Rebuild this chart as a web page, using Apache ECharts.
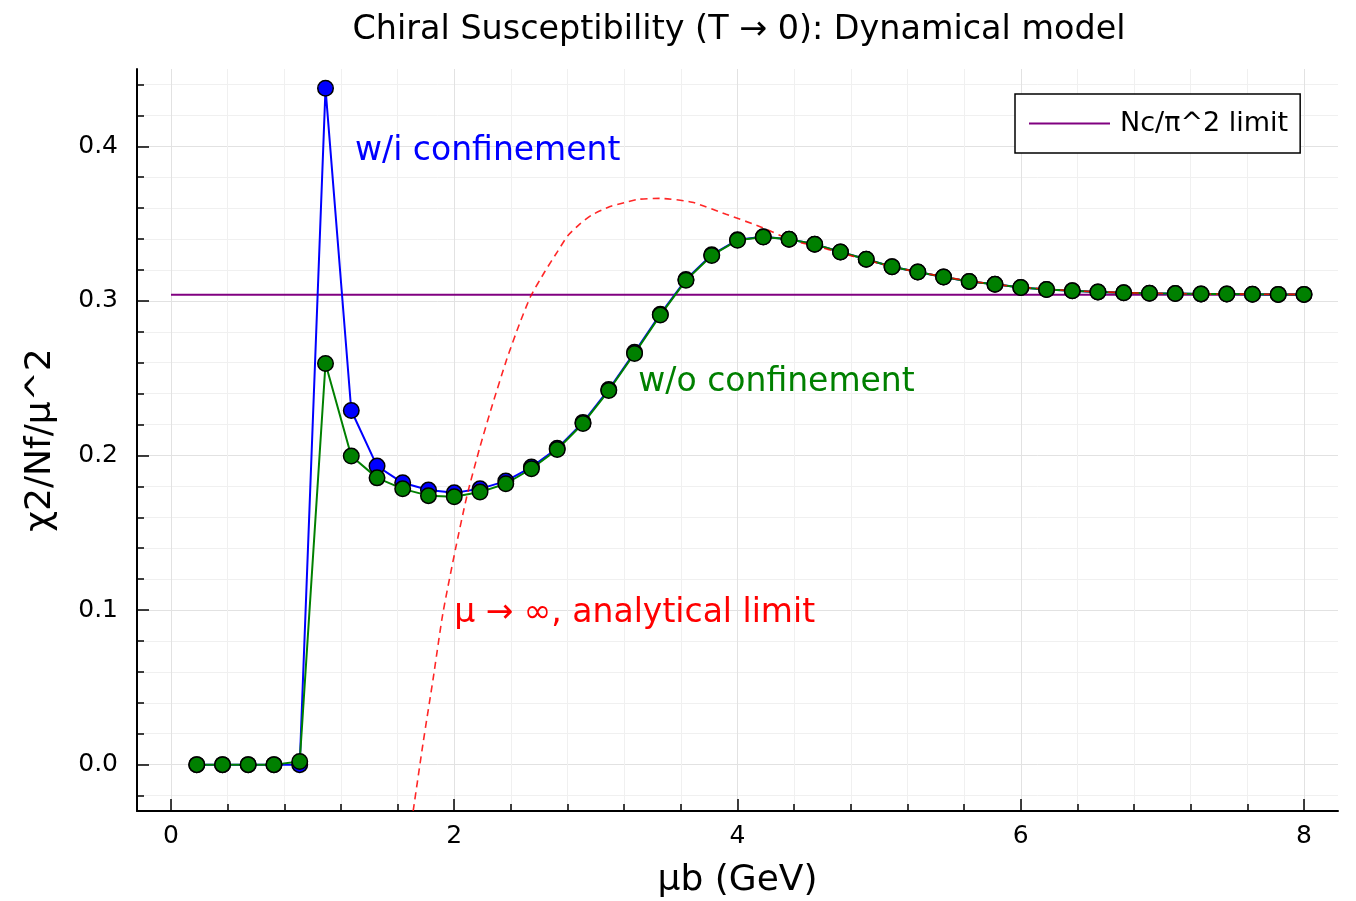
<!DOCTYPE html>
<html>
<head>
<meta charset="utf-8">
<title>Chiral Susceptibility</title>
<script src="https://cdn.jsdelivr.net/npm/echarts@6/dist/echarts.min.js"></script>
<style>
  html, body { margin: 0; padding: 0; background: #fff; }
  #chart { width: 1356px; height: 901px; }
</style>
</head>
<body>
<div id="chart"></div>
<script>
// Baryon chemical potential grid (GeV)
const muB = [0.182, 0.364, 0.545, 0.727, 0.909, 1.091, 1.273, 1.455, 1.636, 1.818,
             2.0, 2.182, 2.364, 2.545, 2.727, 2.909, 3.091, 3.273, 3.455, 3.636,
             3.818, 4.0, 4.182, 4.364, 4.545, 4.727, 4.909, 5.091, 5.273, 5.455,
             5.636, 5.818, 6.0, 6.182, 6.364, 6.545, 6.727, 6.909, 7.091, 7.273,
             7.455, 7.636, 7.818, 8.0];

// chi2/Nf/mu^2 with confinement
const withConf = [0, 0, 0, 0, 0, 0.4375, 0.2291, 0.1931, 0.1823, 0.1776,
                  0.1758, 0.1784, 0.1834, 0.1925, 0.2046, 0.2214, 0.2427, 0.2667, 0.2914, 0.3138,
                  0.3298, 0.3395, 0.3415, 0.3399, 0.3366, 0.3316, 0.3269, 0.3221, 0.3187, 0.3154,
                  0.3126, 0.3107, 0.3087, 0.3074, 0.3065, 0.3058, 0.3052, 0.3049, 0.3047, 0.3045,
                  0.3044, 0.3043, 0.3042, 0.3042];

// chi2/Nf/mu^2 without confinement
const withoutConf = [0, 0, 0, 0, 0.002, 0.2595, 0.1996, 0.1855, 0.1784, 0.1740,
                     0.1733, 0.1763, 0.1817, 0.1914, 0.2039, 0.2207, 0.2420, 0.2660, 0.2908, 0.3133,
                     0.3294, 0.3392, 0.3413, 0.3398, 0.3366, 0.3316, 0.3269, 0.3221, 0.3187, 0.3154,
                     0.3126, 0.3107, 0.3087, 0.3074, 0.3065, 0.3058, 0.3052, 0.3049, 0.3047, 0.3045,
                     0.3044, 0.3043, 0.3042, 0.3042];

// Analytical large-mu curve
const limitMu = [1.71, 1.78, 1.85, 1.92, 2.01, 2.09, 2.18, 2.27, 2.37, 2.46,
                 2.54, 2.64, 2.73, 2.80, 2.89, 2.97, 3.10, 3.20, 3.30, 3.45,
                 3.68, 3.92, 4.16, 4.39, 4.55, 4.73, 4.91, 5.09, 5.27, 5.45,
                 5.64, 5.82, 6.0, 6.36, 6.73, 7.09, 7.45, 8.0];
const limitChi = [-0.030, 0.014, 0.055, 0.098, 0.140, 0.174, 0.205, 0.233, 0.262, 0.285,
                  0.303, 0.319, 0.332, 0.342, 0.350, 0.3555, 0.361, 0.3635, 0.3657, 0.3663,
                  0.3638, 0.356, 0.348, 0.339, 0.3355, 0.331, 0.3265, 0.322, 0.3188, 0.3157,
                  0.3128, 0.3107, 0.3089, 0.3066, 0.3053, 0.3047, 0.3044, 0.3042];

// Free-quark limit Nc/pi^2 (Nc = 3)
const ncLimit = 0.30396;
const ncLimitRange = [0, 8];

// Axis ticks
const xMajor = [0, 2, 4, 6, 8];
const xMinor = [0.4, 0.8, 1.2, 1.6, 2.4, 2.8, 3.2, 3.6, 4.4, 4.8, 5.2, 5.6, 6.4, 6.8, 7.2, 7.6];
const yMajor = [0, 0.1, 0.2, 0.3, 0.4];
const yMinor = [-0.02, 0.02, 0.04, 0.06, 0.08, 0.12, 0.14, 0.16, 0.18, 0.22, 0.24, 0.26,
                0.28, 0.32, 0.34, 0.36, 0.38, 0.42, 0.44];

// Text annotations [x, y, text, colour]
const notes = [
  [1.3, 0.397, 'w/i confinement', '#0000ff'],
  [3.3, 0.247, 'w/o confinement', '#008000'],
  [2.0, 0.098, 'μ → ∞, analytical limit', '#ff0000']
];

const FONT = 'DejaVu Sans';
const zip = (xs, ys) => xs.map((x, i) => [x, ys[i]]);

const majorGrid = { show: true, lineStyle: { color: '#e2e2e2', width: 1 } };
const minorGrid = { show: true, lineStyle: { color: '#f0f0f0', width: 1 } };

function xAxisDef(major) {
  return {
    type: 'value', min: -0.24, max: 8.24, position: 'bottom',
    axisLine: { show: major, onZero: false, lineStyle: { color: '#000', width: 2 } },
    axisTick: { show: true, inside: true, length: major ? 12 : 7,
                customValues: major ? xMajor : xMinor,
                lineStyle: { color: '#000', width: 1.5 } },
    axisLabel: major ? { show: true, customValues: xMajor, fontFamily: FONT, fontSize: 25,
                         color: '#000', margin: 13, formatter: v => String(v) }
                     : { show: false },
    splitLine: major ? majorGrid : minorGrid,
    name: major ? 'μb (GeV)' : '', nameLocation: 'middle', nameGap: 52,
    nameTextStyle: { fontFamily: FONT, fontSize: 36, color: '#000' }
  };
}

function yAxisDef(major) {
  return {
    type: 'value', min: -0.03, max: 0.45, position: 'left',
    axisLine: { show: major, onZero: false, lineStyle: { color: '#000', width: 2 } },
    axisTick: { show: true, inside: true, length: major ? 12 : 7,
                customValues: major ? yMajor : yMinor,
                lineStyle: { color: '#000', width: 1.5 } },
    axisLabel: major ? { show: true, customValues: yMajor, fontFamily: FONT, fontSize: 25,
                         color: '#000', margin: 19, formatter: v => v.toFixed(1) }
                     : { show: false },
    splitLine: major ? majorGrid : minorGrid,
    name: major ? 'χ2/Nf/μ^2' : '', nameLocation: 'middle', nameRotate: 90, nameGap: 78,
    nameTextStyle: { fontFamily: FONT, fontSize: 36, color: '#000' }
  };
}

const markerSeries = (name, ys, color) => ({
  name, type: 'line', data: zip(muB, ys),
  xAxisIndex: 0, yAxisIndex: 0,
  symbol: 'circle', symbolSize: 15.5, showAllSymbol: true,
  lineStyle: { color, width: 2 },
  itemStyle: { color, borderColor: '#000', borderWidth: 1.5 },
  emphasis: { disabled: true }
});

const chart = echarts.init(document.getElementById('chart'), null, { renderer: 'canvas' });
chart.setOption({
  animation: false,
  backgroundColor: '#fff',
  title: {
    text: 'Chiral Susceptibility (T → 0): Dynamical model',
    left: 734, top: 9, textAlign: 'center',
    textStyle: { fontFamily: FONT, fontSize: 33.4, fontWeight: 'normal', color: '#000' }
  },
  legend: {
    data: [{ name: 'Nc/π^2 limit', icon: 'rect' }],
    left: 1015, top: 94,
    itemWidth: 81, itemHeight: 2,
    padding: [16, 12, 16, 14],
    borderColor: '#000', borderWidth: 1.5,
    backgroundColor: '#fff',
    textStyle: { fontFamily: FONT, fontSize: 27, color: '#000', padding: [0, 0, 0, 5] }
  },
  grid: { left: 137, right: 18, top: 69, bottom: 90, containLabel: false, outerBoundsMode: 'none' },
  xAxis: [xAxisDef(true), xAxisDef(false)],
  yAxis: [yAxisDef(true), yAxisDef(false)],
  series: [
    {
      name: 'Nc/π^2 limit', type: 'line',
      data: ncLimitRange.map(x => [x, ncLimit]),
      symbol: 'none', color: '#800080',
      lineStyle: { color: '#800080', width: 2 },
      emphasis: { disabled: true }
    },
    markerSeries('w/i confinement', withConf, '#0000ff'),
    markerSeries('w/o confinement', withoutConf, '#008000'),
    {
      name: 'analytical limit', type: 'line',
      data: zip(limitMu, limitChi),
      symbol: 'none', smooth: 0.2,
      lineStyle: { color: 'rgba(255,0,0,0.85)', width: 1.6, type: [7, 5] },
      emphasis: { disabled: true }
    }
  ]
});

// Annotations anchored at data coordinates
chart.setOption({
  graphic: notes.map(n => {
    const p = chart.convertToPixel({ xAxisIndex: 0, yAxisIndex: 0 }, [n[0], n[1]]);
    return {
      type: 'text', x: p[0], y: p[1], silent: true, z: 100,
      style: { text: n[2], fill: n[3], fontFamily: FONT, fontSize: 33,
               align: 'left', verticalAlign: 'middle' }
    };
  })
});
</script>
</body>
</html>
